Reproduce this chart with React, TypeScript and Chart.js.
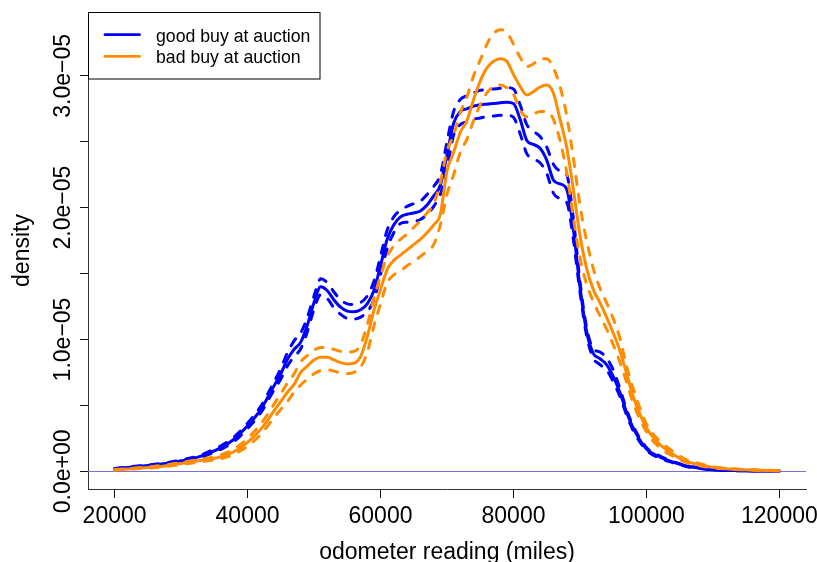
import React, { useEffect, useRef } from "react";
import { Chart, registerables } from "chart.js";

Chart.register(...registerables);

// odometer grid (miles) shared by every curve
const mileage = [
  20000, 22000, 24000, 26000, 28000, 30000, 32000, 34000, 36000, 38000, 40000, 42000, 44000,
  45000, 46000, 47000, 48000, 49000, 50000, 51000, 52000, 53000, 54000, 55000, 56000, 57000, 58000, 59000,
  60000, 61000, 62000, 63000, 64000, 65000, 66000, 67000, 68000, 69000,
  70000, 71000, 72000, 73000, 74000, 75000, 76000, 77000, 78000, 79000,
  80000, 81000, 82000, 83000, 84000, 85000, 86000, 87000, 88000, 89000,
  90000, 91000, 92000, 93000, 94000, 95000, 96000, 97000, 98000,
  100000, 102000, 104000, 106000, 108000, 110000, 112000, 114000, 116000, 118000, 120000,
];

// densities in units of 1e-5
const goodFit = [
  0.02, 0.03, 0.04, 0.05, 0.062, 0.08, 0.1, 0.135, 0.18, 0.245, 0.345, 0.47, 0.65,
  0.74, 0.85, 0.925, 0.98, 1.11, 1.28, 1.4, 1.37, 1.3, 1.245, 1.215, 1.21, 1.225, 1.27, 1.37,
  1.56, 1.76, 1.87, 1.93, 1.95, 1.96, 1.975, 2.02, 2.09, 2.17,
  2.4, 2.64, 2.73, 2.75, 2.77, 2.78, 2.785, 2.79, 2.795, 2.8,
  2.79, 2.67, 2.51, 2.48, 2.45, 2.36, 2.21, 2.18, 2.14, 1.84,
  1.4, 1.06, 0.895, 0.855, 0.81, 0.72, 0.6, 0.45, 0.33,
  0.17, 0.11, 0.07, 0.04, 0.024, 0.012, 0.007, 0.005, 0.003, 0.002, 0.002,
];
const goodHigh = [
  0.022, 0.033, 0.043, 0.054, 0.067, 0.086, 0.108, 0.145, 0.193, 0.262, 0.365, 0.495, 0.68,
  0.78, 0.9, 0.99, 1.05, 1.17, 1.33, 1.46, 1.43, 1.36, 1.3, 1.27, 1.265, 1.28, 1.33, 1.44,
  1.63, 1.83, 1.93, 1.98, 2.01, 2.03, 2.05, 2.1, 2.16, 2.25,
  2.5, 2.73, 2.82, 2.85, 2.87, 2.89, 2.895, 2.9, 2.905, 2.91,
  2.9, 2.78, 2.63, 2.58, 2.54, 2.46, 2.33, 2.28, 2.25, 1.92,
  1.44, 1.09, 0.93, 0.905, 0.86, 0.77, 0.63, 0.47, 0.345,
  0.18, 0.117, 0.074, 0.043, 0.026, 0.013, 0.008, 0.005, 0.003, 0.002, 0.002,
];
const goodLow = [
  0.018, 0.027, 0.037, 0.046, 0.057, 0.074, 0.092, 0.125, 0.167, 0.228, 0.325, 0.445, 0.62,
  0.7, 0.8, 0.87, 0.93, 1.06, 1.23, 1.34, 1.31, 1.24, 1.19, 1.16, 1.155, 1.17, 1.21, 1.3,
  1.49, 1.69, 1.81, 1.88, 1.89, 1.895, 1.91, 1.95, 2.01, 2.1,
  2.3, 2.55, 2.63, 2.65, 2.67, 2.68, 2.69, 2.695, 2.7, 2.7,
  2.685, 2.56, 2.41, 2.37, 2.34, 2.26, 2.11, 2.07, 2.04, 1.76,
  1.36, 1.03, 0.86, 0.81, 0.77, 0.68, 0.57, 0.43, 0.31,
  0.16, 0.1, 0.065, 0.037, 0.022, 0.011, 0.006, 0.004, 0.003, 0.002, 0.002,
];
const badFit = [
  0.012, 0.018, 0.025, 0.033, 0.045, 0.06, 0.075, 0.09, 0.11, 0.15, 0.22, 0.32, 0.46,
  0.53, 0.6, 0.66, 0.75, 0.8, 0.845, 0.865, 0.865, 0.845, 0.825, 0.815, 0.82, 0.87, 1.02, 1.22,
  1.38, 1.53, 1.6, 1.64, 1.68, 1.72, 1.76, 1.81, 1.87, 1.95,
  2.28, 2.42, 2.57, 2.66, 2.82, 2.96, 3.06, 3.11, 3.13, 3.11,
  3.01, 2.92, 2.855, 2.88, 2.915, 2.93, 2.87, 2.67, 2.46, 2.14,
  1.79, 1.54, 1.38, 1.28, 1.17, 1.05, 0.915, 0.745, 0.57,
  0.33, 0.205, 0.13, 0.075, 0.05, 0.03, 0.02, 0.014, 0.01, 0.007, 0.005,
];
const badHigh = [
  0.014, 0.021, 0.029, 0.038, 0.052, 0.068, 0.085, 0.1, 0.125, 0.17, 0.25, 0.36, 0.51,
  0.59, 0.67, 0.74, 0.83, 0.88, 0.92, 0.94, 0.94, 0.925, 0.91, 0.905, 0.91, 0.96, 1.11, 1.31,
  1.48, 1.63, 1.71, 1.76, 1.8, 1.85, 1.9, 1.96, 2.03, 2.19,
  2.43, 2.55, 2.72, 2.84, 3.0, 3.12, 3.24, 3.32, 3.35, 3.33,
  3.24, 3.14, 3.07, 3.09, 3.13, 3.13, 3.06, 2.92, 2.7, 2.38,
  2.02, 1.75, 1.54, 1.39, 1.28, 1.16, 1.01, 0.8, 0.63,
  0.36, 0.23, 0.15, 0.087, 0.058, 0.035, 0.023, 0.016, 0.012, 0.008, 0.006,
];
const badLow = [
  0.01, 0.015, 0.021, 0.028, 0.038, 0.052, 0.065, 0.08, 0.095, 0.13, 0.19, 0.28, 0.41,
  0.47, 0.53, 0.6, 0.655, 0.7, 0.74, 0.765, 0.77, 0.76, 0.745, 0.74, 0.75, 0.79, 0.9, 1.1,
  1.27, 1.43, 1.49, 1.52, 1.56, 1.59, 1.63, 1.67, 1.72, 1.87,
  2.1, 2.25, 2.42, 2.52, 2.66, 2.78, 2.87, 2.92, 2.93, 2.91,
  2.86, 2.74, 2.69, 2.71, 2.73, 2.73, 2.67, 2.51, 2.27, 1.93,
  1.62, 1.42, 1.29, 1.18, 1.08, 0.96, 0.83, 0.68, 0.52,
  0.3, 0.18, 0.115, 0.066, 0.043, 0.026, 0.018, 0.012, 0.009, 0.006, 0.004,
];

const xTicks = [20000, 40000, 60000, 80000, 100000, 120000];
const yTicks = [0, 0.5e-5, 1e-5, 1.5e-5, 2e-5, 2.5e-5, 3e-5];
const yLabelValues = [0, 1e-5, 2e-5, 3e-5];
const yLabels = ["0.0e+00", "1.0e\u221205", "2.0e\u221205", "3.0e\u221205"];

const BLUE = "#0000ff";
const ORANGE = "#ff8c00";
const FONT = '"Liberation Sans", Arial, Helvetica, sans-serif';

const toPoints = (vals: number[]) => mileage.map((x, i) => ({ x, y: vals[i] * 1e-5 }));

const curve = (label: string, vals: number[], color: string, dashed: boolean, order: number) => ({
  label,
  data: toPoints(vals),
  borderColor: color,
  borderWidth: 3,
  borderDash: dashed ? [8, 10] : [],
  borderCapStyle: "round" as const,
  borderJoinStyle: "round" as const,
  pointRadius: 0,
  cubicInterpolationMode: "monotone" as const,
  fill: false,
  order,
});

// R-style decorations: zero line, rotated tick labels, titles, boxed legend
const rDecor = {
  id: "rDecor",
  beforeDatasetsDraw(chart: any) {
    const { ctx, chartArea, scales } = chart;
    const y0 = Math.round(scales.y.getPixelForValue(0)) + 0.5;
    ctx.save();
    ctx.strokeStyle = "#7a6fd6";
    ctx.lineWidth = 1;
    ctx.beginPath();
    ctx.moveTo(chartArea.left, y0);
    ctx.lineTo(chartArea.right, y0);
    ctx.stroke();
    ctx.restore();
  },
  afterDraw(chart: any) {
    const { ctx, chartArea, scales } = chart;
    ctx.save();
    ctx.fillStyle = "#000";
    ctx.font = `23px ${FONT}`;
    ctx.textBaseline = "alphabetic";
    ctx.textAlign = "center";

    xTicks.forEach((v) => {
      ctx.fillText(String(v), scales.x.getPixelForValue(v), 523);
    });
    ctx.fillText("odometer reading (miles)", (chartArea.left + chartArea.right) / 2, 559);

    yLabelValues.forEach((v, i) => {
      ctx.save();
      ctx.translate(69.5, scales.y.getPixelForValue(v));
      ctx.rotate(-Math.PI / 2);
      ctx.fillText(yLabels[i], 0, 0);
      ctx.restore();
    });
    ctx.save();
    ctx.translate(29, (chartArea.top + chartArea.bottom) / 2);
    ctx.rotate(-Math.PI / 2);
    ctx.fillText("density", 0, 0);
    ctx.restore();

    // legend box: one entry per fitted (solid) curve, in dataset order
    const items = chart.data.datasets.filter((d: any) => d.borderDash.length === 0);
    ctx.fillStyle = "#fff";
    ctx.fillRect(88, 12, 232, 67);
    ctx.strokeStyle = "#000";
    ctx.lineWidth = 1;
    ctx.strokeRect(88.5, 12.5, 231.5, 66.5);
    ctx.font = `17.7px ${FONT}`;
    ctx.textAlign = "left";
    items.forEach((d: any, i: number) => {
      const ly = 34.7 + i * 21.6;
      ctx.strokeStyle = d.borderColor;
      ctx.lineWidth = 2.8;
      ctx.lineCap = "round";
      ctx.beginPath();
      ctx.moveTo(105, ly);
      ctx.lineTo(139.5, ly);
      ctx.stroke();
      ctx.fillStyle = "#000";
      ctx.fillText(d.label, 156, 41.6 + i * 21.6);
    });
    ctx.restore();
  },
};

export default function App() {
  const canvasRef = useRef<HTMLCanvasElement | null>(null);
  const chartRef = useRef<Chart | null>(null);

  useEffect(() => {
    document.body.style.margin = "0";
    if (!canvasRef.current) return;
    const ctx = canvasRef.current.getContext("2d");
    if (!ctx) return;

    if (chartRef.current) {
      chartRef.current.destroy();
    }

    chartRef.current = new Chart(ctx, {
      type: "line",
      data: {
        // blue listed first (legend order), orange drawn on top via order
        datasets: [
          curve("good buy at auction", goodFit, BLUE, false, 1),
          curve("good upper", goodHigh, BLUE, true, 1),
          curve("good lower", goodLow, BLUE, true, 1),
          curve("bad buy at auction", badFit, ORANGE, false, 0),
          curve("bad upper", badHigh, ORANGE, true, 0),
          curve("bad lower", badLow, ORANGE, true, 0),
        ] as any,
      },
      options: {
        animation: false,
        responsive: true,
        maintainAspectRatio: false,
        layout: { padding: { top: 12, right: 11, left: 0, bottom: 0 } },
        plugins: {
          legend: { display: false },
          tooltip: { enabled: false },
        },
        scales: {
          x: {
            type: "linear",
            min: 16000,
            max: 124000,
            afterBuildTicks: (s: any) => {
              s.ticks = xTicks.map((value) => ({ value }));
            },
            afterFit: (s: any) => {
              s.height = 73;
            },
            ticks: { display: false },
            grid: { drawOnChartArea: false, drawTicks: true, tickLength: 9, color: "#111", lineWidth: 1 },
            border: { display: true, color: "#333", width: 1 },
          },
          y: {
            type: "linear",
            min: -0.134e-5,
            max: 3.484e-5,
            afterBuildTicks: (s: any) => {
              s.ticks = yTicks.map((value) => ({ value }));
            },
            afterFit: (s: any) => {
              s.width = 88;
            },
            ticks: { display: false },
            grid: { drawOnChartArea: false, drawTicks: true, tickLength: 8, color: "#111", lineWidth: 1 },
            border: { display: true, color: "#333", width: 1 },
          },
        },
      },
      plugins: [rDecor],
    });

    return () => {
      if (chartRef.current) {
        chartRef.current.destroy();
        chartRef.current = null;
      }
    };
  }, []);

  return (
    <div style={{ position: "relative", width: 817, height: 562 }}>
      <canvas ref={canvasRef} />
    </div>
  );
}
